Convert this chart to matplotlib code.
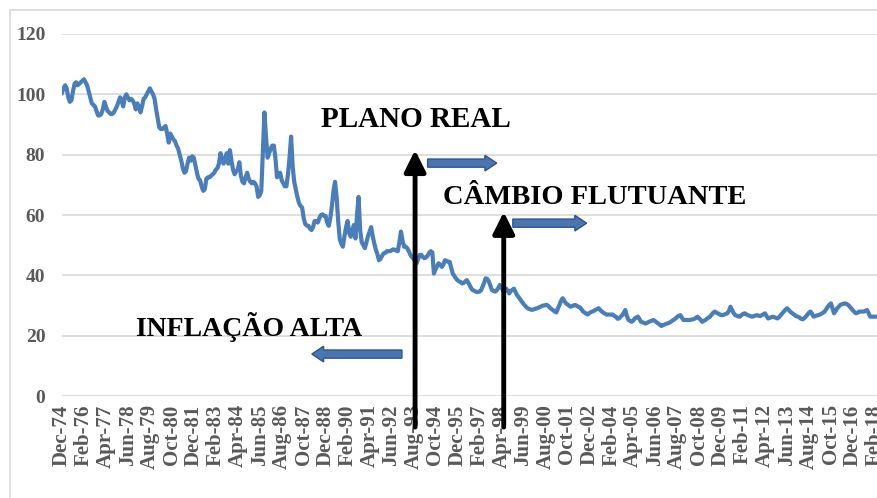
"""Indice mensal Dec-74 a Feb-18 com marcos: inflacao alta, Plano Real, cambio flutuante."""

# ---------- Import requirements ----------- #

import numpy as np
import pandas as pd
import matplotlib
matplotlib.use('Agg')
import matplotlib.pyplot as plt
from matplotlib.patches import FancyArrow, Rectangle

# ---------------- Data -------------------- #

startMonth = '1974-12'
nMonth = 519
tickStep = 14  # one label every 14 months

# monthly values, one row per calendar year
v1974 = [100.5]
v1975 = [102, 103, 102, 99, 97.5, 98, 101, 103.5, 104, 103, 103.5, 104]
v1976 = [104.5, 105, 104, 103, 101, 99, 97, 96.5, 96, 94.5, 93, 93]
v1977 = [93.5, 95, 97.5, 96, 94.5, 94, 93.5, 93.5, 94, 95, 96, 97.5]
v1978 = [99, 98, 96, 99, 100, 99, 98, 98.5, 98, 97, 95, 97]
v1979 = [96, 94, 96, 98.5, 99, 100, 101, 102, 101, 100, 98.5, 95]
v1980 = [92, 89, 88.5, 88.5, 89, 89.5, 87, 84, 87, 86, 85, 84.5]
v1981 = [83, 82, 80, 78, 75.5, 74, 74.5, 77, 79, 78, 79.5, 79]
v1982 = [76.5, 74, 72, 71.5, 69.5, 68, 68.5, 72, 72.5, 72.5, 73, 73.5]
v1983 = [74, 75, 75.5, 77, 80.5, 78, 77, 79, 80.5, 77, 81.5, 78]
v1984 = [75, 73.5, 74.5, 75, 77.5, 73, 71, 70.5, 72.5, 74, 72, 71]
v1985 = [70.5, 71, 70.5, 69.5, 66, 66.5, 68, 81, 94, 86, 79, 80.5]
v1986 = [82, 83, 83, 79, 72.5, 73, 74, 71.5, 70.5, 69.5, 69.5, 73.5]
v1987 = [79, 86, 76, 71, 68.5, 66, 64, 63, 62.5, 59, 57, 56.5]
v1988 = [56.4, 55.5, 55, 56, 58, 58, 57.5, 59, 60, 60.2, 59.7, 59.7]
v1989 = [57.5, 56.4, 59, 63, 68, 71, 66, 58, 52, 50.5, 49.5, 53]
v1990 = [56, 58, 54, 52.8, 55, 56.7, 52.2, 60, 66, 55, 51, 50]
v1991 = [49, 51, 53, 54.5, 56, 53, 50.6, 48.5, 47, 45, 45.5, 46.5]
v1992 = [47.3, 47.5, 48, 48, 48, 48.3, 48.6, 48.5, 48.2, 48, 51, 54.5]
v1993 = [51.5, 49.5, 49.5, 49, 48, 46.8, 46, 45.5, 44.5, 44, 45.5, 46.8]
v1994 = [46.8, 46, 45.7, 46, 46.5, 47.5, 48, 47.6, 40.6, 42, 43, 44]
v1995 = [43.5, 42.8, 43.5, 45, 44.8, 44.5, 44.5, 42.5, 40.6, 39.8, 39, 38.4]
v1996 = [38, 37.8, 37.3, 37.5, 38, 38.4, 37.5, 36.5, 35.5, 35, 34.8, 34.5]
v1997 = [34.5, 34.6, 35, 36.2, 37.5, 39, 38.8, 38, 36.5, 35.1, 34.8, 34.6]
v1998 = [35, 35.8, 36.8, 36, 35, 35.3, 35.6, 35, 34, 34.8, 35.2, 35.6]
v1999 = [34.5, 33.4, 32.8, 32, 31.3, 30.6, 30, 29.4, 29, 28.8, 28.6, 28.6]
v2000 = [28.8, 29, 29.1, 29.4, 29.6, 29.9, 30, 30.1, 30.2, 29.8, 29.2, 28.8]
v2001 = [28.4, 28, 27.7, 29, 30.2, 31.5, 32.4, 31.6, 30.8, 30.4, 30, 29.6]
v2002 = [29.8, 30, 30.2, 29.9, 29.6, 29.4, 28.8, 28, 27.7, 27.3, 27, 27.5]
v2003 = [27.8, 28, 28.2, 28.6, 28.8, 29.1, 28.5, 28, 27.6, 27.3, 27, 27]
v2004 = [27, 27, 27, 26.5, 26.3, 25.6, 25.7, 26.3, 26.8, 27.6, 28.5, 26.5]
v2005 = [25.2, 24.9, 24.6, 25, 25.7, 26, 26.3, 25.5, 24.6, 24.4, 24.2, 24]
v2006 = [24.3, 24.6, 24.8, 25, 25.2, 24.8, 24.4, 24, 23.6, 23.2, 23.5, 23.7]
v2007 = [23.9, 24.1, 24.3, 24.6, 25, 25.3, 25.7, 26.2, 26.6, 26.8, 26, 25.2]
v2008 = [25.2, 25.2, 25.2, 25.2, 25.3, 25.4, 25.6, 25.9, 26.3, 25.8, 25.2, 24.6]
v2009 = [24.9, 25.2, 25.6, 26, 26.3, 27, 27.6, 28, 27.6, 27.4, 27.1, 26.8]
v2010 = [26.8, 27, 27.2, 27.4, 28.2, 29.6, 28.5, 27.5, 26.8, 26.6, 26.4, 26.3]
v2011 = [26.8, 27.2, 27.4, 27.1, 26.8, 26.6, 26.4, 26.3, 26.5, 26.7, 26.8, 26.6]
v2012 = [26.5, 26.8, 27.1, 27.4, 26.5, 25.7, 25.9, 26.1, 26.3, 26.1, 25.9, 25.7]
v2013 = [26.2, 26.8, 27.4, 28, 28.6, 29.1, 28.6, 28, 27.6, 27.2, 26.8, 26.4]
v2014 = [26.3, 26, 25.6, 25.4, 25.8, 26.3, 27, 27.6, 28, 27.2, 26.3, 26.5]
v2015 = [26.7, 26.8, 27, 27.3, 27.6, 28, 28.8, 29.6, 30.2, 30.7, 29, 27.4]
v2016 = [28.2, 29.1, 29.6, 30.2, 30.4, 30.6, 30.7, 30.5, 30.2, 29.6, 29, 28.4]
v2017 = [27.8, 27.4, 27.6, 28, 28, 28, 28, 28.2, 28.5, 27.5, 26.3, 26.3]
v2018 = [26.3, 26.3]

series = (v1974 + v1975 + v1976 + v1977 + v1978 + v1979 + v1980 + v1981
    + v1982 + v1983 + v1984 + v1985 + v1986 + v1987 + v1988 + v1989
    + v1990 + v1991 + v1992 + v1993 + v1994 + v1995 + v1996 + v1997
    + v1998 + v1999 + v2000 + v2001 + v2002 + v2003 + v2004 + v2005
    + v2006 + v2007 + v2008 + v2009 + v2010 + v2011 + v2012 + v2013
    + v2014 + v2015 + v2016 + v2017 + v2018)

yTicks = [0, 20, 40, 60, 80, 100, 120]

# milestones (month index, arrow tip value)
planoRealIdx, planoRealTip = 225, 81.5
cambioIdx, cambioTip = 281.5, 61.0

# ------------- Style ------------ #

lineColor = '#4a7ebb'
gridColor = '#d9d9d9'
labelColor = '#595959'
arrowFill = '#4a76b0'
arrowEdge = '#2f528f'
serif = ['Liberation Serif', 'DejaVu Serif']

months = pd.date_range(startMonth, periods=nMonth, freq='MS')
xLabels = [m.strftime('%b-%y') for m in months]
x = np.arange(len(series))

# -------------- Plot ----------------- #

fig = plt.figure(figsize=(8.78, 4.98), dpi=100)
ax = fig.add_axes([62 / 878, 102 / 498, 816 / 878, 362 / 498])

ax.plot(x, series, color=lineColor, lw=3.0, solid_joinstyle='round')

ax.set_xlim(0, 520)
ax.set_ylim(0, 120)
ax.set_yticks(yTicks)
ax.set_yticklabels([str(t) for t in yTicks], fontfamily=serif,
    fontweight='bold', fontsize=14, color=labelColor)
ax.set_xticks(x[::tickStep])
ax.set_xticklabels(xLabels[::tickStep], rotation=90, fontfamily=serif,
    fontweight='bold', fontsize=15, color=labelColor)
ax.tick_params(axis='both', length=0)
ax.tick_params(axis='y', pad=12)
ax.tick_params(axis='x', pad=6)
ax.grid(axis='y', color=gridColor, lw=1.2)
ax.set_axisbelow(True)
for s in ax.spines.values():
    s.set_visible(False)

# labels
ax.text(225.6, 91.5, 'PLANO REAL', fontfamily=serif, fontweight='bold',
    fontsize=21, ha='center', va='center', color='black')
ax.text(339.4, 65.8, 'CÂMBIO FLUTUANTE', fontfamily=serif, fontweight='bold',
    fontsize=20.5, ha='center', va='center', color='black')
ax.text(119, 22.8, 'INFLAÇÃO ALTA', fontfamily=serif, fontweight='bold',
    fontsize=20, ha='center', va='center', color='black')

# black vertical arrows
for idx, tip in [(planoRealIdx, planoRealTip), (cambioIdx, cambioTip)]:
    ax.annotate('', xy=(idx, tip), xytext=(idx, -10.3),
        arrowprops=dict(arrowstyle='-|>,head_length=1.3,head_width=0.65',
            mutation_scale=10, lw=3.5, color='black', shrinkA=0, shrinkB=0),
        annotation_clip=False)

# blue block arrows
blockArrows = [(233, 77.2, 44), (287.3, 57.3, 47), (216.6, 13.9, -57.4)]
for x0, y0, dx in blockArrows:
    ax.add_patch(FancyArrow(x0, y0, dx, 0, width=2.7, head_width=5.2,
        head_length=7.5, length_includes_head=True, facecolor=arrowFill,
        edgecolor=arrowEdge, lw=1.0, clip_on=False, zorder=4))

# chart frame
fig.add_artist(Rectangle((10 / 878, -0.1), 2, 488 / 498 + 0.1,
    transform=fig.transFigure, fill=False, edgecolor=gridColor, lw=1.2))

plt.savefig('out.png', dpi=100)
